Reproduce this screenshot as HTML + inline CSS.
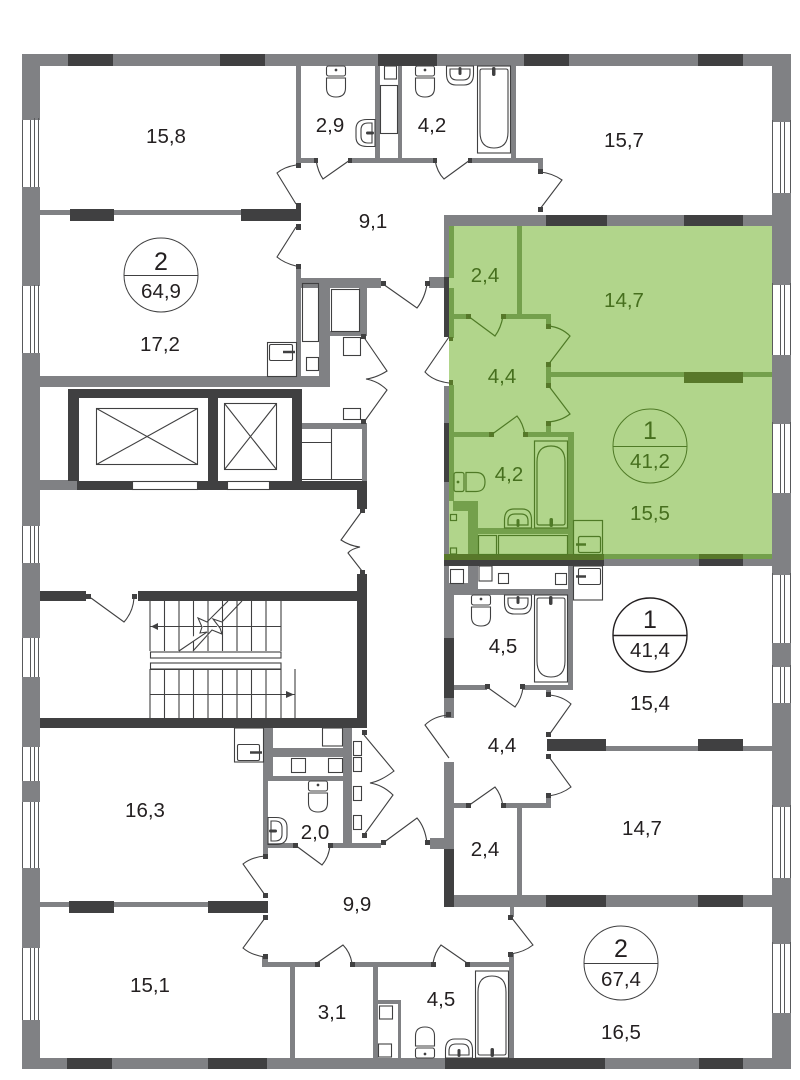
<!DOCTYPE html>
<html><head><meta charset="utf-8"><title>Floor plan</title>
<style>
html,body{margin:0;padding:0;background:#fff}
svg{display:block}
text{font-family:"Liberation Sans",sans-serif;font-size:20.5px;fill:#231f20;text-anchor:middle}
.g text{fill:#466f1e}
.w rect{fill:#808184}
.d rect{fill:#404041}
.gw rect{fill:#74a04c}
.gd rect{fill:#58782a}
.l{fill:none;stroke:#404041;stroke-width:1.1}
.gl{fill:none;stroke:#4f7a26;stroke-width:1.2}
</style></head><body>
<svg width="800" height="1080" viewBox="0 0 800 1080" xmlns="http://www.w3.org/2000/svg">
<defs>
<g id="toilet"><rect x="0.5" y="0" width="19" height="10" rx="2"/><path d="M0.5 12H19.5V22Q19.5 31 10 31Q0.5 31 0.5 22Z"/><circle cx="10" cy="4" r="0.8" fill="currentColor"/></g>
<g id="sink"><path d="M0.5 0V8Q0.500 19 10 19H18Q27.500 19 27.500 8V0Z"/><path d="M4 3V7Q4 14 11 14H17Q24 14 24 7V3Z"/><rect x="12.500" y="1" width="3" height="8" rx="1.500" fill="currentColor" stroke="none"/></g>
<g id="tub"><rect x="0.5" y="0" width="33" height="87"/><path d="M3 5Q3 3 5 3H29Q31 3 31 5V66Q31 82 17 82Q3 82 3 66Z"/><rect x="15" y="1" width="3.500" height="9" rx="1.700" fill="currentColor" stroke="none"/></g>
</defs>

<rect x="449" y="226" width="323" height="334" fill="#b1d58b"/>

<g class="w">
<rect x="22" y="54" width="769" height="12"/>
<rect x="22" y="54" width="18" height="1015"/>
<rect x="772" y="54" width="19" height="1015"/>
<rect x="22" y="1058" width="769" height="11"/>
<rect x="40" y="210" width="258" height="5"/>
<rect x="296" y="66" width="5" height="99"/>
<rect x="301" y="158" width="15" height="5"/>
<rect x="350" y="158" width="85" height="5"/>
<rect x="470" y="158" width="73" height="5"/>
<rect x="375" y="66" width="5" height="94"/>
<rect x="398" y="66" width="4" height="94"/>
<rect x="511" y="66" width="5" height="94"/>
<rect x="538" y="158" width="5" height="14"/>
<rect x="296" y="266" width="5" height="112"/>
<rect x="301" y="278" width="80" height="10"/>
<rect x="319" y="278" width="11" height="109"/>
<rect x="359" y="278" width="8" height="58"/>
<rect x="330" y="331" width="37" height="5"/>
<rect x="40" y="376" width="290" height="11"/>
<rect x="40" y="480" width="38" height="10"/>
<rect x="302" y="423" width="65" height="6"/>
<rect x="362" y="423" width="5" height="58"/>
<rect x="444" y="215" width="347" height="11"/>
<rect x="444" y="226" width="5" height="52"/>
<rect x="429" y="277" width="20" height="11"/>
<rect x="444" y="386" width="5" height="170"/>
<rect x="604" y="559" width="168" height="7"/>
<rect x="444" y="566" width="5" height="152"/>
<rect x="449" y="583" width="29" height="12"/>
<rect x="449" y="595" width="5" height="123"/>
<rect x="468" y="566" width="10" height="29"/>
<rect x="478" y="589" width="95" height="6"/>
<rect x="568" y="566" width="5" height="124"/>
<rect x="454" y="685" width="33" height="5"/>
<rect x="523" y="685" width="50" height="5"/>
<rect x="546" y="685" width="5" height="10"/>
<rect x="606" y="746" width="166" height="5"/>
<rect x="444" y="762" width="10" height="87"/>
<rect x="430" y="838" width="14" height="11"/>
<rect x="454" y="803" width="14" height="5"/>
<rect x="503" y="803" width="48" height="5"/>
<rect x="546" y="795" width="5" height="13"/>
<rect x="517" y="808" width="5" height="87"/>
<rect x="454" y="895" width="318" height="12"/>
<rect x="510" y="907" width="4" height="10"/>
<rect x="509" y="954" width="5" height="104"/>
<rect x="467" y="962" width="47" height="5"/>
<rect x="352" y="962" width="81" height="5"/>
<rect x="262" y="962" width="55" height="5"/>
<rect x="262" y="957" width="6" height="5"/>
<rect x="290" y="967" width="5" height="91"/>
<rect x="373" y="967" width="5" height="91"/>
<rect x="378" y="1000" width="23" height="4"/>
<rect x="398" y="1000" width="3" height="58"/>
<rect x="40" y="902" width="225" height="5"/>
<rect x="263" y="728" width="10" height="52"/>
<rect x="263" y="780" width="5" height="75"/>
<rect x="273" y="748" width="70" height="9"/>
<rect x="268" y="776" width="75" height="5"/>
<rect x="343" y="728" width="9" height="120"/>
<rect x="268" y="843" width="27" height="5"/>
<rect x="330" y="843" width="51" height="5"/>
</g>

<g class="gw">
<rect x="449" y="226" width="5" height="52"/>
<rect x="449" y="288" width="5" height="50"/>
<rect x="449" y="385" width="5" height="116"/>
<rect x="517" y="226" width="5" height="90"/>
<rect x="454" y="314" width="14" height="5"/>
<rect x="503" y="314" width="48" height="5"/>
<rect x="546" y="314" width="5" height="14"/>
<rect x="549" y="372" width="223" height="5"/>
<rect x="546" y="363" width="5" height="22"/>
<rect x="546" y="422" width="5" height="10"/>
<rect x="453" y="432" width="38" height="5"/>
<rect x="525" y="432" width="49" height="5"/>
<rect x="568" y="437" width="6" height="118"/>
<rect x="453" y="501" width="25" height="10"/>
<rect x="468" y="511" width="10" height="44"/>
<rect x="478" y="528" width="90" height="6"/>
<rect x="604" y="554" width="168" height="5"/>
</g>

<g class="d">
<rect x="68" y="54" width="45" height="12"/>
<rect x="220" y="54" width="45" height="12"/>
<rect x="378" y="54" width="59" height="12"/>
<rect x="524" y="54" width="45" height="12"/>
<rect x="698" y="54" width="45" height="12"/>
<rect x="70" y="209" width="44" height="12"/>
<rect x="241" y="209" width="60" height="12"/>
<rect x="546" y="215" width="61" height="11"/>
<rect x="684" y="215" width="59" height="11"/>
<rect x="68" y="389" width="234" height="9"/>
<rect x="68" y="389" width="11" height="92"/>
<rect x="208" y="398" width="10" height="92"/>
<rect x="292" y="389" width="10" height="101"/>
<rect x="77" y="481" width="55" height="9"/>
<rect x="198" y="481" width="29" height="9"/>
<rect x="270" y="481" width="97" height="9"/>
<rect x="357" y="481" width="10" height="28"/>
<rect x="40" y="591" width="46" height="10"/>
<rect x="138" y="591" width="229" height="10"/>
<rect x="357" y="574" width="10" height="154"/>
<rect x="40" y="718" width="327" height="10"/>
<rect x="444" y="277" width="5" height="60"/>
<rect x="444" y="423" width="5" height="59"/>
<rect x="444" y="554" width="160" height="12"/>
<rect x="699" y="559" width="44" height="7"/>
<rect x="444" y="638" width="10" height="60"/>
<rect x="547" y="739" width="59" height="12"/>
<rect x="698" y="739" width="45" height="12"/>
<rect x="444" y="849" width="10" height="58"/>
<rect x="546" y="895" width="60" height="12"/>
<rect x="698" y="895" width="45" height="12"/>
<rect x="69" y="901" width="45" height="12"/>
<rect x="208" y="901" width="60" height="12"/>
<rect x="67" y="1058" width="45" height="11"/>
<rect x="208" y="1058" width="59" height="11"/>
<rect x="445" y="1058" width="160" height="11"/>
<rect x="699" y="1058" width="44" height="11"/>
<rect x="296" y="163" width="5" height="5"/><rect x="296" y="203" width="5" height="6"/>
<rect x="296" y="224" width="5" height="6"/><rect x="296" y="264" width="5" height="5"/>
<rect x="314" y="158" width="4" height="5"/><rect x="348" y="158" width="4" height="5"/>
<rect x="433" y="158" width="4" height="5"/><rect x="468" y="158" width="4" height="5"/>
<rect x="538" y="169" width="5" height="5"/><rect x="538" y="207" width="5" height="5"/>
<rect x="381" y="281" width="5" height="5"/><rect x="425" y="281" width="5" height="5"/>
<rect x="361" y="334" width="5" height="5"/><rect x="361" y="419" width="5" height="5"/>
<rect x="360" y="508" width="5" height="5"/><rect x="360" y="570" width="5" height="5"/>
<rect x="86" y="594" width="5" height="5"/><rect x="132" y="594" width="5" height="5"/>
<rect x="485" y="684" width="5" height="5"/><rect x="520" y="684" width="5" height="5"/>
<rect x="546" y="692" width="5" height="5"/><rect x="546" y="732" width="5" height="5"/>
<rect x="446" y="712" width="5" height="5"/><rect x="546" y="754" width="5" height="5"/>
<rect x="546" y="793" width="5" height="5"/>
<rect x="466" y="803" width="5" height="5"/><rect x="501" y="803" width="5" height="5"/>
<rect x="381" y="840" width="5" height="5"/><rect x="425" y="840" width="5" height="5"/>
<rect x="508" y="915" width="5" height="5"/><rect x="508" y="952" width="5" height="5"/>
<rect x="431" y="962" width="5" height="5"/><rect x="465" y="962" width="5" height="5"/>
<rect x="263" y="854" width="5" height="5"/><rect x="263" y="893" width="5" height="5"/>
<rect x="263" y="915" width="5" height="5"/><rect x="263" y="954" width="5" height="5"/>
<rect x="315" y="962" width="5" height="5"/><rect x="350" y="962" width="5" height="5"/>
<rect x="293" y="843" width="5" height="5"/><rect x="328" y="843" width="5" height="5"/>
<rect x="362" y="730" width="5" height="5"/><rect x="362" y="833" width="5" height="5"/>
</g>
<g class="gd">
<rect x="684" y="372" width="59" height="11"/>
<rect x="449" y="337" width="4" height="4"/>
<rect x="449" y="380" width="4" height="5"/>
<rect x="466" y="314" width="5" height="5"/><rect x="501" y="314" width="5" height="5"/>
<rect x="546" y="324" width="5" height="5"/><rect x="546" y="362" width="5" height="5"/>
<rect x="546" y="383" width="5" height="5"/><rect x="546" y="421" width="5" height="5"/>
<rect x="489" y="432" width="5" height="5"/><rect x="523" y="432" width="5" height="5"/>
<rect x="444" y="554" width="160" height="6"/>
<rect x="699" y="554" width="44" height="5"/>
</g>

<!-- windows, left wall -->
<g fill="#fff">
<rect x="22" y="120" width="18" height="67"/>
<rect x="22" y="286" width="18" height="67"/>
<rect x="22" y="526" width="18" height="37"/>
<rect x="22" y="638" width="18" height="39"/>
<rect x="22" y="747" width="18" height="34"/>
<rect x="22" y="802" width="18" height="66"/>
<rect x="22" y="948" width="18" height="72"/>
<rect x="772" y="122" width="19" height="71"/>
<rect x="772" y="285" width="19" height="70"/>
<rect x="772" y="424" width="19" height="69"/>
<rect x="772" y="575" width="19" height="68"/>
<rect x="772" y="667" width="19" height="36"/>
<rect x="772" y="807" width="19" height="71"/>
<rect x="772" y="944" width="19" height="69"/>
</g>
<g fill="none" stroke="#58595b" stroke-width="1">
<path d="M22.500 120V187M30.500 120V187M34.500 118V187M38.500 118V187"/>
<path d="M22.500 286V353M30.500 286V353M34.500 285V353M38.500 285V353"/>
<path d="M22.500 526V563M30.500 526V563M34.500 526V563M38.500 526V563"/>
<path d="M22.500 638V677M30.500 638V677M34.500 638V677M38.500 638V677"/>
<path d="M22.500 747V781M30.500 747V781M34.500 747V781M38.500 747V781"/>
<path d="M22.500 802V868M30.500 802V868M34.500 802V868M38.500 802V868"/>
<path d="M22.500 948V1020M30.500 948V1020M34.500 948V1020M38.500 948V1020"/>
<path d="M772.500 120V193M780.500 122V193M784.500 122V193M790.500 120V193"/>
<path d="M772.500 283V355M780.500 285V355M784.500 285V355M790.500 283V355"/>
<path d="M772.500 422V493M780.500 424V493M784.500 424V493M790.500 422V493"/>
<path d="M772.500 573V643M780.500 575V643M784.500 575V643M790.500 573V643"/>
<path d="M772.500 665V703M780.500 667V703M784.500 667V703M790.500 665V703"/>
<path d="M772.500 805V878M780.500 807V878M784.500 807V878M790.500 805V878"/>
<path d="M772.500 942V1013M780.500 944V1013M784.500 944V1013M790.500 942V1013"/>
</g>

<!-- lifts -->
<g class="l">
<rect x="96.500" y="408.500" width="101" height="56"/><path d="M96.500 408.500L197.500 464.500M197.500 408.500L96.500 464.500"/>
<rect x="224.500" y="403.500" width="52" height="66"/><path d="M224.500 403.500L276.500 469.500M276.500 403.500L224.500 469.500"/>
<rect x="132.500" y="481.500" width="65" height="8"/><rect x="227.500" y="481.500" width="42" height="8"/>
</g>

<!-- stairs -->
<g class="l">
<path d="M150 601V651M164.500 601V651M179 601V651M193.500 601V651M208 601V651M222.500 601V651M237 601V651M251.500 601V651M266 601V651M281 601V651M150 626.500H281"/>
<path d="M150 669V718M164.500 669V718M179 669V718M193.500 669V718M208 669V718M222.500 669V718M237 669V718M251.500 669V718M266 669V718M281 669V718M150 694.500H295M150 669.500H281M295 669V718"/>
<rect x="150.500" y="652" width="130.500" height="6"/><rect x="150.500" y="663" width="130.500" height="6"/>
<path d="M228 601L207 622L198 618L202 627L200 633L207 632L179 651" fill="#fff"/>
<path d="M242 601L222 622L213 619L220 628L222 634L212 630L193 651" fill="#fff"/>
</g>
<path d="M151 626.500L158 623V630Z M294 694.500L286 691V698Z" fill="#404041"/>

<!-- doors -->
<g class="l">
<path d="M296 165Q284 167 277 173L296 204"/>
<path d="M296 227L277 257Q284 263 296 266"/>
<path d="M316 160Q318 172 323 179L350 160"/>
<path d="M435 160Q437 172 444 179L470 160"/>
<path d="M540 172Q552 173 562 180L540 209"/>
<path d="M383 284L417 308Q425 298 427 284"/>
<path d="M449 337L425 372Q433 381 449 383"/>
<path d="M363 336L387 371Q376 378 366 379Q378 381 387 390L364 422"/>
<path d="M362 511L341 540Q350 546 360 547Q351 549 348 553L362 571"/>
<path d="M91 598L124 622Q133 612 134 598"/>
<path d="M487 687L515 707Q522 698 523 687"/>
<path d="M549 695Q562 696 571 704L549 735"/>
<path d="M449 715Q434 716 425 725L449 758"/>
<path d="M549 757L571 787Q562 794 549 796"/>
<path d="M468 806L495 787Q501 794 503 806"/>
<path d="M427 843Q425 827 417 818L383 843"/>
<path d="M511 917L533 945Q524 952 511 954"/>
<path d="M433 963Q435 952 441 945L467 963"/>
<path d="M265 856Q252 857 243 864L265 895"/>
<path d="M265 918L243 948Q251 955 265 957"/>
<path d="M317 963L343 945Q350 952 352 963"/>
<path d="M295 845L322 865Q329 857 330 845"/>
<path d="M364 735L394 771Q381 781 370 783Q383 785 393 795L364 835"/>
</g>
<g class="gl">
<path d="M468 316L495 336Q501 328 503 316"/>
<path d="M548 326Q561 327 570 336L548 365"/>
<path d="M548 385L570 414Q561 421 548 422"/>
<path d="M491 435L517 416Q523 423 525 435"/>
</g>

<!-- fixtures -->
<g class="l" color="#404041">
<use href="#toilet" x="326" y="66"/>
<use href="#toilet" x="415" y="66"/>
<use href="#sink" x="446" y="66"/>
<use href="#tub" x="477" y="66"/>
<use href="#sink" transform="translate(375,119) rotate(90)"/>
<rect x="384.500" y="66" width="12" height="13"/>
<rect x="380.500" y="85.500" width="17" height="48"/>
<rect x="302.500" y="283.500" width="16" height="58"/>
<rect x="306.500" y="357.500" width="12" height="13"/>
<rect x="331.500" y="289.500" width="28" height="42"/>
<rect x="343.500" y="337.500" width="17" height="18"/>
<rect x="343.500" y="408.500" width="17" height="11"/>
<rect x="267.500" y="342.500" width="29" height="34"/>
<rect x="269.500" y="344.500" width="23" height="16" rx="1.500"/>
<path d="M283 352H295" stroke-width="2.500"/>
<path d="M302 442.500H331.500M331.500 429V479M302 479.500H362"/>
<rect x="450.500" y="569.500" width="13" height="14"/>
<rect x="479" y="566" width="13" height="15"/>
<rect x="498.500" y="573.500" width="10" height="10"/>
<rect x="555.500" y="573.500" width="11" height="11"/>
<rect x="573.500" y="566" width="29" height="34"/>
<rect x="578.500" y="568.500" width="22" height="16" rx="1.500"/>
<path d="M576 576.500H586" stroke-width="2.500"/>
<use href="#toilet" x="471" y="595"/>
<use href="#sink" x="504" y="595"/>
<use href="#tub" x="534" y="595"/>
<rect x="234.500" y="728" width="29" height="34"/>
<rect x="237.500" y="744.500" width="22" height="16" rx="1.500"/>
<path d="M250 752.500H262" stroke-width="2.500"/>
<rect x="322.500" y="728" width="20" height="18"/>
<rect x="291.500" y="758.500" width="14" height="14"/>
<rect x="328.500" y="758.500" width="14" height="14"/>
<rect x="353.500" y="741.500" width="8" height="14"/>
<rect x="353.500" y="757.500" width="8" height="14"/>
<rect x="353.500" y="786.500" width="8" height="14"/>
<rect x="353.500" y="815.500" width="8" height="14"/>
<use href="#toilet" x="308" y="781"/>
<use href="#sink" transform="translate(268,845) rotate(-90)"/>
<rect x="379.500" y="1006" width="13" height="13"/>
<rect x="378.500" y="1044" width="13" height="13"/>
<use href="#toilet" transform="translate(435,1058) rotate(180)"/>
<use href="#sink" transform="translate(473,1058) rotate(180)"/>
<use href="#tub" transform="translate(509,1058) rotate(180)"/>
</g>

<g class="gl" color="#4f7a26">
<use href="#tub" transform="translate(568,528) rotate(180)"/>
<use href="#sink" transform="translate(532,528) rotate(180)"/>
<use href="#toilet" transform="translate(454,492) rotate(-90)"/>
<rect x="450.500" y="514.500" width="6" height="6"/>
<rect x="450.500" y="548" width="6" height="6"/>
<rect x="478.500" y="535.500" width="18" height="19"/>
<rect x="498.500" y="535.500" width="69" height="19"/>
<rect x="573.500" y="520.500" width="29" height="34"/>
<rect x="578.500" y="536.500" width="22" height="16" rx="1.500"/>
<path d="M576 544.500H586" stroke-width="2.500"/>
</g>

<!-- circles -->
<g fill="none" stroke="#404041" stroke-width="1">
<circle cx="161" cy="275" r="37"/><path d="M124 275.500H198"/>
<circle cx="621" cy="963" r="37"/><path d="M584 963.500H658"/>
</g>
<g fill="none" stroke="#4f7a26"><circle cx="650" cy="446" r="37"/><path d="M613 446.500H687"/></g>
<g fill="none" stroke="#231f20" stroke-width="1.400"><circle cx="650" cy="635" r="37"/><path d="M613 635.500H687"/></g>

<!-- labels -->
<text x="166" y="143">15,8</text>
<text x="330" y="132">2,9</text>
<text x="373" y="228">9,1</text>
<text x="432" y="132">4,2</text>
<text x="624" y="147">15,7</text>
<text x="160" y="351">17,2</text>
<text x="161" y="270" style="font-size:25px">2</text>
<text x="161" y="298">64,9</text>
<g class="g">
<text x="485" y="282">2,4</text>
<text x="624" y="307">14,7</text>
<text x="502" y="383">4,4</text>
<text x="650" y="439" style="font-size:25px">1</text>
<text x="650" y="468">41,2</text>
<text x="509" y="481">4,2</text>
<text x="650" y="520">15,5</text>
</g>
<text x="650" y="628" style="font-size:25px">1</text>
<text x="650" y="657">41,4</text>
<text x="503" y="653">4,5</text>
<text x="650" y="710">15,4</text>
<text x="502" y="752">4,4</text>
<text x="642" y="835">14,7</text>
<text x="485" y="856">2,4</text>
<text x="145" y="817">16,3</text>
<text x="315" y="839">2,0</text>
<text x="357" y="911">9,9</text>
<text x="150" y="992">15,1</text>
<text x="332" y="1019">3,1</text>
<text x="441" y="1006">4,5</text>
<text x="621" y="957" style="font-size:25px">2</text>
<text x="621" y="986">67,4</text>
<text x="621" y="1039">16,5</text>
</svg>
</body></html>
